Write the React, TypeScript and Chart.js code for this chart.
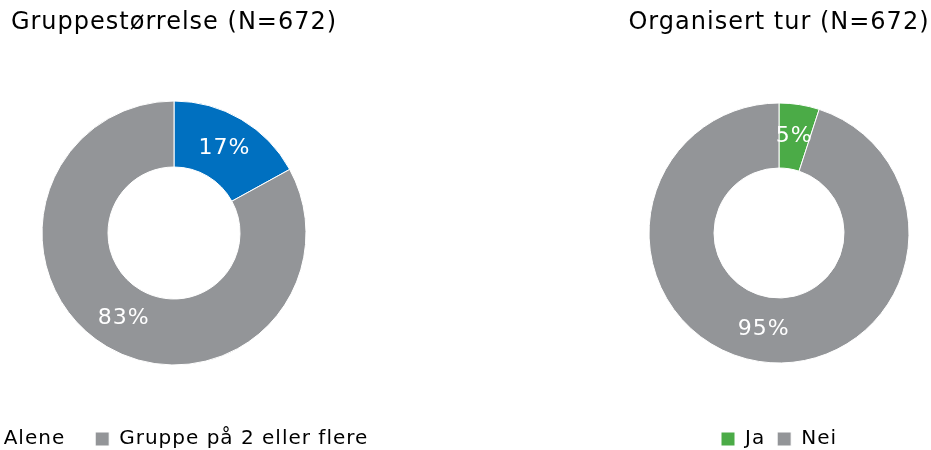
import React, { useEffect, useRef } from "react";
import { Chart, registerables } from "chart.js";

Chart.register(...registerables);

const leftTitle = "Gruppestørrelse (N=672)";
const leftLabels = ["Alene", "Gruppe på 2 eller flere"];
const leftValues = [17, 83];
const leftColors = ["#0070C0", "#939598"];

const rightTitle = "Organisert tur (N=672)";
const rightLabels = ["Ja", "Nei"];
const rightValues = [5, 95];
const rightColors = ["#4BAB47", "#939598"];

const FONT = "'DejaVu Sans', sans-serif";
const SPACING = "1px";

const spacingPlugin = {
  id: "letterSpacing",
  beforeUpdate(chart: any) {
    chart.ctx.letterSpacing = SPACING;
  },
  beforeDraw(chart: any) {
    chart.ctx.letterSpacing = SPACING;
  },
};

const pctLabels = {
  id: "pctLabels",
  afterDatasetsDraw(chart: any) {
    const ctx = chart.ctx;
    const meta = chart.getDatasetMeta(0);
    const data = chart.data.datasets[0].data;
    ctx.save();
    ctx.font = `22px ${FONT}`;
    ctx.fillStyle = "#ffffff";
    ctx.textAlign = "center";
    ctx.textBaseline = "middle";
    meta.data.forEach((arc: any, i: number) => {
      const p = arc.tooltipPosition(false);
      ctx.fillText(`${data[i]}%`, p.x, p.y);
    });
    ctx.restore();
  },
};

type Props = {
  title: string;
  labels: string[];
  values: number[];
  colors: string[];
  left: number;
  width: number;
  height: number;
  radius: number;
  legendPad: number;
  titlePadBottom: number;
};

function Doughnut(p: Props) {
  const ref = useRef<HTMLCanvasElement>(null);
  useEffect(() => {
    const chart = new Chart(ref.current as HTMLCanvasElement, {
      type: "doughnut",
      data: {
        labels: p.labels,
        datasets: [
          {
            data: p.values,
            backgroundColor: p.colors,
            borderColor: "#ffffff",
            borderWidth: 1,
            hoverOffset: 0,
          },
        ],
      },
      options: {
        responsive: false,
        animation: false,
        radius: p.radius,
        cutout: "50%",
        layout: { padding: 0 },
        plugins: {
          title: {
            display: true,
            text: p.title,
            color: "#000000",
            font: { family: FONT, size: 24, weight: "normal", lineHeight: 1.2 },
            padding: { top: 8, bottom: p.titlePadBottom },
          },
          legend: {
            position: "bottom",
            labels: {
              boxWidth: 14,
              boxHeight: 14,
              padding: p.legendPad,
              color: "#000000",
              font: { family: FONT, size: 20 },
            },
          },
          tooltip: { enabled: false },
        },
      } as any,
      plugins: [spacingPlugin, pctLabels],
    });
    return () => chart.destroy();
  }, []);
  return (
    <canvas
      ref={ref}
      width={p.width}
      height={p.height}
      style={{ position: "absolute", left: p.left, top: 0, width: p.width, height: p.height }}
    />
  );
}

export default function App() {
  return (
    <div
      style={{
        position: "absolute",
        left: 0,
        top: 0,
        width: 931,
        height: 450,
        overflow: "hidden",
        background: "#ffffff",
      }}
    >
      <Doughnut
        title={leftTitle}
        labels={leftLabels}
        values={leftValues}
        colors={leftColors}
        left={-76}
        width={500}
        height={459}
        radius={132}
        legendPad={30}
        titlePadBottom={30.2}
      />
      <Doughnut
        title={rightTitle}
        labels={rightLabels}
        values={rightValues}
        colors={rightColors}
        left={619}
        width={320}
        height={459}
        radius={130}
        legendPad={12}
        titlePadBottom={12.2}
      />
    </div>
  );
}
